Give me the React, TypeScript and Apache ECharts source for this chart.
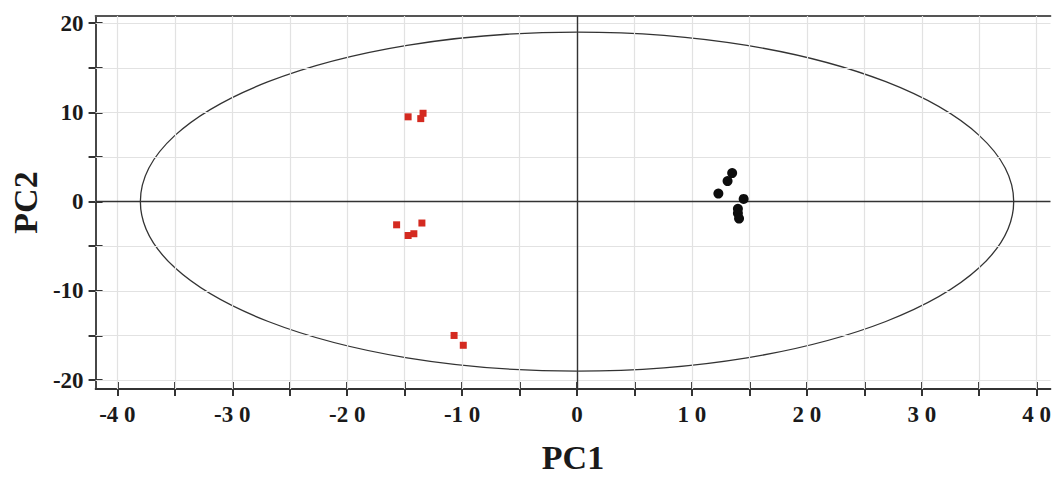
import React, { useEffect, useRef } from "react";
import * as echarts from "echarts";

const groupA: [number, number][] = [
  [-14.7, 9.5], [-13.4, 9.9], [-13.6, 9.3],
  [-15.7, -2.6], [-14.7, -3.8], [-14.2, -3.6], [-13.5, -2.4],
  [-10.7, -15.0], [-9.9, -16.1],
];
const groupB: [number, number][] = [
  [13.5, 3.2], [13.1, 2.3], [12.3, 0.9], [14.5, 0.3],
  [14.0, -0.8], [14.0, -1.3], [14.1, -1.9],
];
// Hotelling ellipse: centre x, centre y, radius x, radius y
const ellipse = [[0, 0, 38, 19]];
const xTicks = [-40, -35, -30, -25, -20, -15, -10, -5, 0, 5, 10, 15, 20, 25, 30, 35, 40];
const xLabels = [-40, -30, -20, -10, 0, 10, 20, 30, 40];
const yTicks = [-20, -15, -10, -5, 0, 5, 10, 15, 20];
const yLabels = [-20, -10, 0, 10, 20];

const FONT = "'Liberation Serif', 'DejaVu Serif', serif";
const AXIS_COLOR = "#333";

const fmtX = (v: number) => {
  const s = String(Math.abs(v));
  const spaced = s.split("").join(" ");
  return (v < 0 ? "-" : "") + spaced;
};

export default function App() {
  const ref = useRef<HTMLDivElement>(null);
  useEffect(() => {
    if (!ref.current) return;
    const chart = echarts.init(ref.current, undefined, { renderer: "svg" });
    const labelStyle = {
      fontFamily: FONT,
      fontWeight: "bold" as const,
      fontSize: 23,
      color: "#1a1a1a",
    };
    const tickLine = { color: AXIS_COLOR, width: 2 };
    const xBase = { type: "value" as const, min: -41.9, max: 41.2, splitLine: { show: false } };
    const yBase = { type: "value" as const, min: -21, max: 20.8, splitLine: { show: false } };
    chart.setOption({
      animation: false,
      backgroundColor: "#fff",
      grid: { left: 92, right: 0, top: 16, bottom: 87, containLabel: false },
      xAxis: [
        {
          ...xBase,
          position: "bottom",
          axisLine: { show: true, onZero: false, lineStyle: { color: AXIS_COLOR, width: 1.8 } },
          axisTick: { show: true, inside: false, length: 7, customValues: xTicks, lineStyle: tickLine },
          axisLabel: { show: true, customValues: xLabels, formatter: (v: number) => fmtX(v), margin: 14, ...labelStyle },
          name: "PC1",
          nameLocation: "middle",
          nameGap: 51,
          nameTextStyle: { fontFamily: FONT, fontWeight: "bold", fontSize: 34, color: "#1a1a1a" },
        },
        {
          ...xBase,
          position: "bottom",
          axisLine: { show: false, onZero: false },
          axisTick: { show: true, inside: true, length: 7, customValues: xTicks, lineStyle: tickLine },
          axisLabel: { show: false },
        },
        {
          ...xBase,
          position: "top",
          axisLine: { show: true, onZero: false, lineStyle: { color: "#555", width: 1.8 } },
          axisTick: { show: false },
          axisLabel: { show: false },
        },
      ],
      yAxis: [
        {
          ...yBase,
          position: "left",
          axisLine: { show: true, onZero: false, lineStyle: { color: AXIS_COLOR, width: 1.8 } },
          axisTick: { show: true, inside: false, length: 7, customValues: yTicks, lineStyle: tickLine },
          axisLabel: { show: true, customValues: yLabels, margin: 12, ...labelStyle },
          name: "PC2",
          nameLocation: "middle",
          nameGap: 52,
          nameTextStyle: { fontFamily: FONT, fontWeight: "bold", fontSize: 34, color: "#1a1a1a" },
        },
        {
          ...yBase,
          position: "left",
          axisLine: { show: false, onZero: false },
          axisTick: { show: true, inside: true, length: 7, customValues: yTicks, lineStyle: tickLine },
          axisLabel: { show: false },
        },
      ],
      series: [
        {
          type: "scatter",
          xAxisIndex: 0,
          yAxisIndex: 0,
          data: [],
          z: 1,
          silent: true,
          markLine: {
            silent: true,
            symbol: "none",
            label: { show: false },
            lineStyle: { color: "#e2e2e2", width: 1.2, type: "solid" },
            data: [
              ...xTicks.map((v) => ({ xAxis: v })),
              ...yTicks.map((v) => ({ yAxis: v })),
            ],
          },
        },
        {
          type: "scatter",
          xAxisIndex: 0,
          yAxisIndex: 0,
          data: [],
          z: 2,
          silent: true,
          markLine: {
            silent: true,
            symbol: "none",
            label: { show: false },
            lineStyle: { color: "#333", width: 1.4, type: "solid" },
            data: [{ xAxis: 0 }, { yAxis: 0 }],
          },
        },
        {
          type: "custom",
          xAxisIndex: 0,
          yAxisIndex: 0,
          z: 3,
          silent: true,
          data: ellipse,
          renderItem: (_params: any, api: any) => {
            const c = api.coord([api.value(0), api.value(1)]);
            const s = api.size([api.value(2), api.value(3)]);
            return {
              type: "ellipse",
              shape: { cx: c[0], cy: c[1], rx: s[0], ry: s[1] },
              style: { fill: "none", stroke: "#333", lineWidth: 1.3 },
            };
          },
        },
        {
          type: "scatter",
          xAxisIndex: 0,
          yAxisIndex: 0,
          z: 5,
          symbol: "rect",
          symbolSize: 7,
          itemStyle: { color: "#d42a20", opacity: 1 },
          data: groupA,
        },
        {
          type: "scatter",
          xAxisIndex: 0,
          yAxisIndex: 0,
          z: 5,
          symbol: "circle",
          symbolSize: 10,
          itemStyle: { color: "#0d0d0d", opacity: 1 },
          data: groupB,
        },
      ],
    });
    return () => chart.dispose();
  }, []);
  return (
    <div
      ref={ref}
      style={{ position: "absolute", left: 0, top: 0, width: 1054, height: 479 }}
    />
  );
}
